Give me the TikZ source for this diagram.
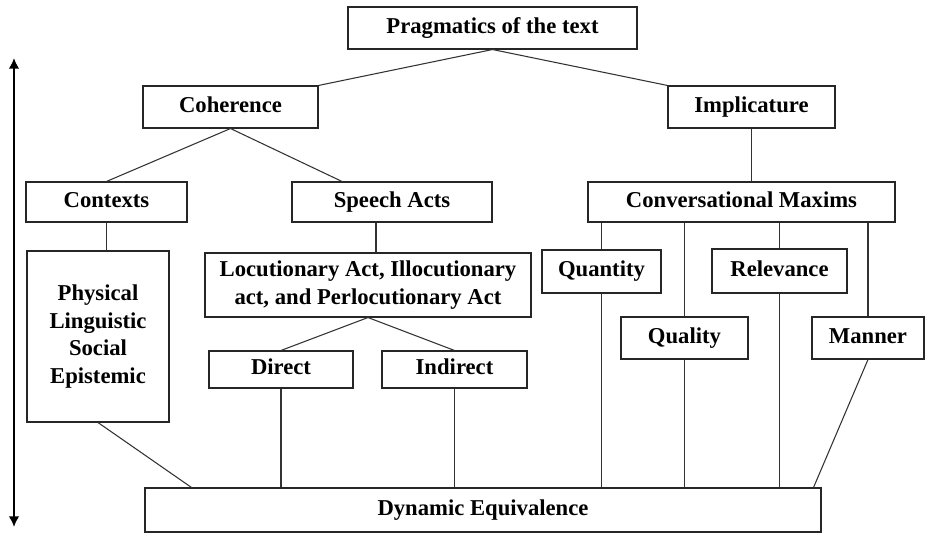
\documentclass[tikz,border=0pt]{standalone}
\usepackage{fontspec}
\setmainfont{Liberation Serif}
\usetikzlibrary{arrows}
\usetikzlibrary{arrows.meta}
\usetikzlibrary{positioning}
\usetikzlibrary{calc}
\tikzstyle{box} = [draw=black!85, line width=0.8pt, fill=white, align=center,
        inner sep=2pt, font={\bfseries\fontsize{17}{20.6}\selectfont}]
\tikzstyle{single} = [box, text height=11.5pt, text depth=3.5pt]
\tikzstyle{link} = [draw=black!80, line width=0.8pt]
\tikzset{boxsize/.style 2 args={minimum width=#1*0.75pt, minimum height=#2*0.75pt}}

\begin{document}
\begin{tikzpicture}[x=0.75pt, y=-0.75pt]
                \useasboundingbox (0,0) rectangle (926,534);
                \draw (492.5,28)
                    node [single, boxsize={289}{42}] (prag) {Pragmatics of the text}
                    +(-262,79)
                    node [single, boxsize={175}{42}] (coh) {Coherence}
                    +(259,79)
                    node [single, boxsize={167}{42}] (impl) {Implicature}
                    +(-386,174)
                    node [single, boxsize={161}{40}] (cont) {Contexts}
                    +(-100.5,174)
                    node [single, boxsize={200}{40}] (speech) {Speech Acts}
                    +(249,174)
                    node [single, boxsize={307}{40}] (conv) {Conversational Maxims}
                    +(-394.5,308.5)
                    node [box, boxsize={142}{171}] (phys) {Physical\\Linguistic\\Social\\Epistemic}
                    +(-124.5,257)
                    node [box, boxsize={326}{64}] (loc) {Locutionary Act, Illocutionary\\act, and Perlocutionary Act}
                    +(109,243.5)
                    node [single, boxsize={119}{43}] (quant) {Quantity}
                    +(287,243)
                    node [single, boxsize={135}{44}] (relev) {Relevance}
                    +(192,310)
                    node [single, boxsize={127}{42}] (qual) {Quality}
                    +(375.5,310)
                    node [single, boxsize={112}{42}] (manner) {Manner}
                    +(-211.5,341.5)
                    node [single, boxsize={144}{37}] (direct) {Direct}
                    +(-38,341.5)
                    node [single, boxsize={145}{37}] (indirect) {Indirect}
                    +(-9.5,482)
                    node [single, boxsize={676}{44}] (de) {Dynamic Equivalence};

                % tree links
                \draw [link] (prag.south) -- (coh.north east);
                \draw [link] (prag.south) -- (impl.north west);
                \draw [link] (coh.south) -- (cont.north);
                \draw [link] (coh.south) -- ($(speech.north)+(-50,0)$);
                \draw [link] (impl.south) -- (impl.south |- conv.north);
                \draw [link] (cont.south) -- (cont.south |- phys.north);
                \draw [link] ($(speech.south)+(-16,0)$) -- ($(speech.south |- loc.north)+(-16,0)$);
                \draw [link] (loc.south) -- (direct.north);
                \draw [link] (loc.south) -- (indirect.north);

                % down to dynamic equivalence
                \draw [link] (phys.south) -- ($(de.north west)+(47,0)$);
                \draw [link] (direct.south) -- (direct.south |- de.north);
                \draw [link] (indirect.south) -- (indirect.south |- de.north);
                \foreach \m in {quant, qual, relev, manner}
                    \draw [link] (conv.south -| \m.north) -- (\m.north);
                \foreach \m in {quant, qual, relev}
                    \draw [link] (\m.south) -- (\m.south |- de.north);
                \draw [link] (manner.south) -- ($(de.north east)+(-8,0)$);

                % side arrow
                \coordinate (up) at (14,58);
                \coordinate (down) at (14,527);
                \draw [{Latex[length=8pt,width=8pt]}-{Latex[length=8pt,width=8pt]}, line width=1.5pt] (up) -- (down);
            \end{tikzpicture}
\end{document}
